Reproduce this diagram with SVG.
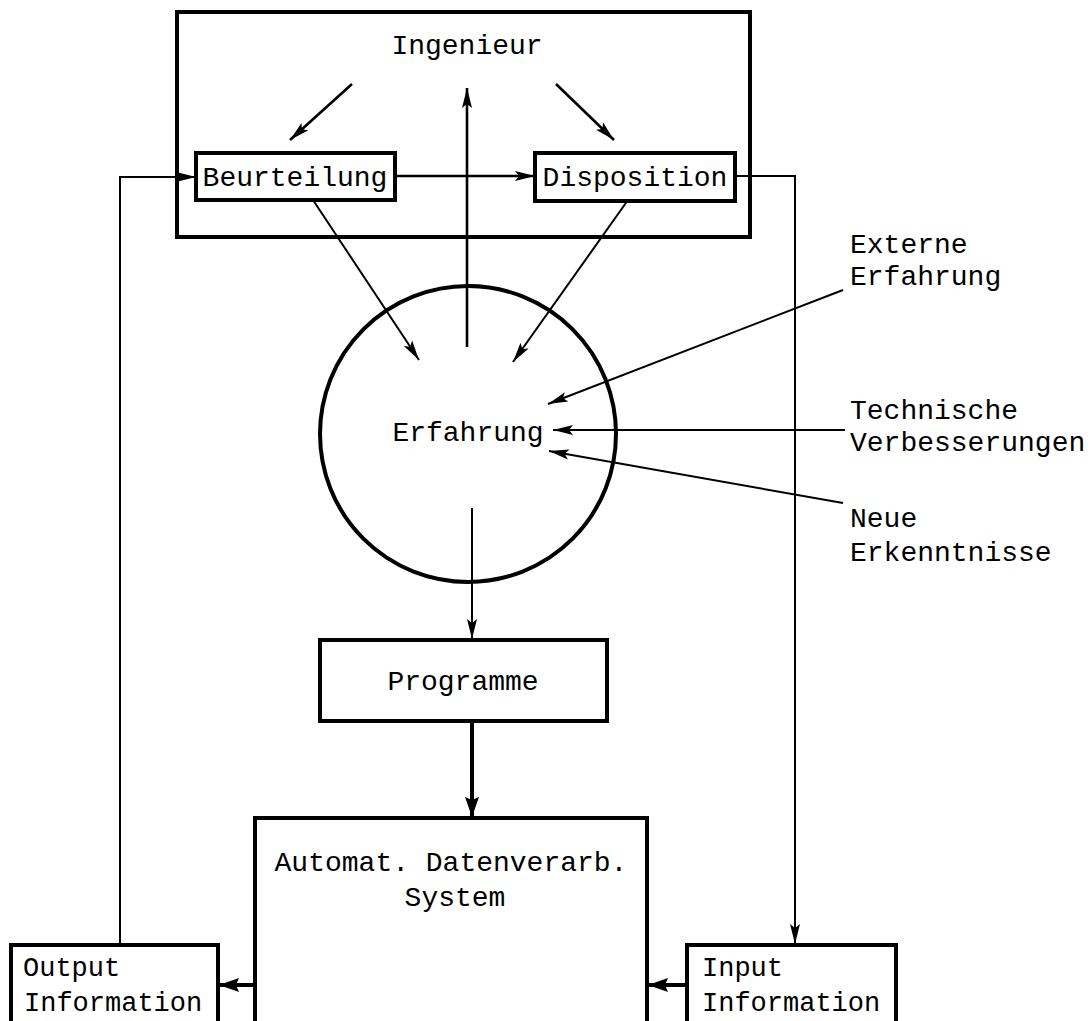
<svg xmlns="http://www.w3.org/2000/svg" width="1091" height="1021" viewBox="0 0 1091 1021">
<style>
.box{fill:#fff;stroke:#000;stroke-width:4}
.thin{fill:none;stroke:#000;stroke-width:2}
.mid{fill:none;stroke:#000;stroke-width:2.6}
.thick{fill:none;stroke:#000;stroke-width:4}
text{font-family:"Liberation Mono","DejaVu Sans Mono",monospace;font-size:28px;fill:#000}
.c{text-anchor:middle}
.s{font-size:27px}
</style>
<defs>
<marker id="a" markerUnits="userSpaceOnUse" markerWidth="22" markerHeight="12" refX="20" refY="6" orient="auto">
<path d="M0,1 L20,6 L0,11 L4,6 Z" fill="#000"/>
</marker>
<marker id="b" markerUnits="userSpaceOnUse" markerWidth="22" markerHeight="16" refX="20" refY="8" orient="auto">
<path d="M0,1 L20,8 L0,15 L3,8 Z" fill="#000"/>
</marker>
</defs>
<rect width="1091" height="1021" fill="#fff"/>
<g id="connectors">
<line class="mid" x1="352" y1="84" x2="290" y2="140" marker-end="url(#a)"/>
<line class="mid" x1="556" y1="84" x2="614" y2="140" marker-end="url(#a)"/>
<line class="mid" x1="467" y1="347" x2="467" y2="88" marker-end="url(#a)"/>
<line class="mid" x1="395" y1="176" x2="535" y2="176" marker-end="url(#a)"/>
<polyline class="thin" points="120,944 120,177 196,177" marker-end="url(#a)"/>
<polyline class="thin" points="735,176 795,176 795,944" marker-end="url(#a)"/>
<line class="thin" x1="313" y1="200" x2="419" y2="360" marker-end="url(#a)"/>
<line class="thin" x1="628" y1="200" x2="513" y2="362" marker-end="url(#a)"/>
<line class="thin" x1="843" y1="290" x2="548" y2="404" marker-end="url(#a)"/>
<line class="thin" x1="845" y1="430" x2="553" y2="430" marker-end="url(#a)"/>
<line class="thin" x1="843" y1="503" x2="549" y2="451" marker-end="url(#a)"/>
<line class="thin" x1="472" y1="508" x2="472" y2="639" marker-end="url(#a)"/>
<line class="thick" x1="472" y1="720" x2="472" y2="817" marker-end="url(#b)"/>
<line class="thick" x1="255" y1="985" x2="219" y2="985" marker-end="url(#b)"/>
<line class="thick" x1="687" y1="985" x2="648" y2="985" marker-end="url(#b)"/>
</g>
<g id="engineer-frame"><rect x="177" y="12" width="573" height="225" fill="none" stroke="#000" stroke-width="4"/></g>
<g id="ingenieur"><text class="c" x="467" y="54">Ingenieur</text></g>
<g id="beurteilung"><rect class="box" x="196" y="153" width="199" height="47"/><text class="c" x="295" y="186">Beurteilung</text></g>
<g id="disposition"><rect class="box" x="535" y="153" width="200" height="48"/><text class="c" x="635" y="186">Disposition</text></g>
<g id="erfahrung"><circle cx="468" cy="434" r="148" fill="none" stroke="#000" stroke-width="4"/><text class="c" x="468" y="441">Erfahrung</text></g>
<g id="externe"><text x="850" y="253">Externe</text><text x="850" y="285">Erfahrung</text></g>
<g id="technische"><text x="850" y="419">Technische</text><text x="850" y="451">Verbesserungen</text></g>
<g id="neue"><text x="850" y="527">Neue</text><text x="850" y="561">Erkenntnisse</text></g>
<g id="programme"><rect class="box" x="320" y="640" width="287" height="81"/><text class="c" x="463" y="690">Programme</text></g>
<g id="adv"><rect class="box" x="255" y="818" width="392" height="210"/><text class="c" x="451" y="871">Automat. Datenverarb.</text><text class="c" x="455" y="906">System</text></g>
<g id="output"><rect class="box" x="11" y="945" width="207" height="85"/><text class="s" x="23" y="976">Output</text><text class="s" x="24" y="1011">Information</text></g>
<g id="input"><rect class="box" x="687" y="945" width="209" height="85"/><text class="s" x="702" y="976">Input</text><text class="s" x="702" y="1011">Information</text></g>
</svg>
